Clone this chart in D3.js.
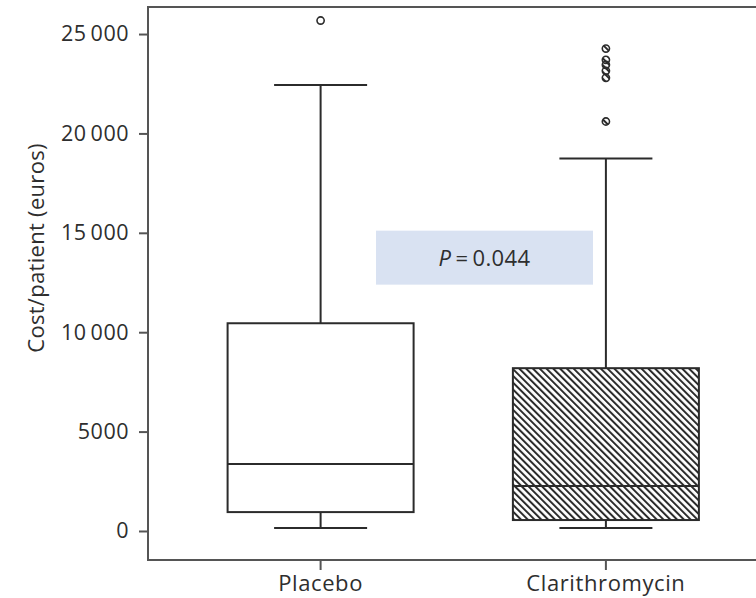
<!DOCTYPE html>
<html>
<head>
<meta charset="utf-8">
<script src="https://cdn.jsdelivr.net/npm/d3@7/dist/d3.min.js"></script>
<style>
  html, body { margin: 0; padding: 0; background: #fff; }
  svg { display: block; }
  text { font-family: "Open Sans", "Noto Sans", sans-serif; fill: #2e2e2e; }
</style>
</head>
<body>
<svg id="chart" width="756" height="598"></svg>
<script>
// Cost per patient, summarised as box plots per treatment arm
const categories   = ["Placebo", "Clarithromycin"];
const whiskerLow   = [150, 150];
const q1           = [950, 550];
const median       = [3370, 2260];
const q3           = [10450, 8190];
const whiskerHigh  = [22430, 18740];
const outliers     = [
  [25680],
  [24270, 23700, 23450, 23150, 22800, 20600]
];
const hatched      = [false, true];

const yTicks       = [0, 5000, 10000, 15000, 20000, 25000];
const yTickLabels  = ["0", "5000", "10\u2009000", "15\u2009000", "20\u2009000", "25\u2009000"];
const yTitle       = "Cost/patient (euros)";
const pLabelValue  = "0.044";
const pLabelAt     = 13750; // vertical centre of the annotation, euros

const svg = d3.select("#chart");
const ink = "#2b2b2b";

const frame = { left: 148, top: 7, bottom: 560, right: 780 };

const y = d3.scaleLinear().domain([-1460, 26360]).range([frame.bottom, frame.top]);
const x = d3.scaleBand().domain(categories)
  .range([148, 778.5]).paddingInner(0.348).paddingOuter(0.279);

// hatch fill for the treatment arm
const defs = svg.append("defs");
defs.append("pattern")
  .attr("id", "hatch")
  .attr("patternUnits", "userSpaceOnUse")
  .attr("width", 4.8).attr("height", 10)
  .attr("patternTransform", "rotate(-45)")
  .append("rect")
  .attr("x", 0).attr("y", 0).attr("width", 2).attr("height", 10)
  .attr("fill", ink);

// y axis (ticks and labels only; the frame is drawn separately)
const yAxis = d3.axisLeft(y)
  .tickValues(yTicks)
  .tickSize(9)
  .tickPadding(10)
  .tickFormat((d, i) => yTickLabels[i]);

const gy = svg.append("g")
  .attr("transform", `translate(${frame.left},0)`)
  .call(yAxis);
gy.select(".domain").remove();
gy.selectAll(".tick line").attr("stroke", "#555").attr("stroke-width", 2);
gy.selectAll(".tick text")
  .style("font-size", "21.5px").style("letter-spacing", "0.5px")
  .attr("fill", "#2e2e2e");

// x axis
const xAxis = d3.axisBottom(x).tickSize(10).tickPadding(5);
const gx = svg.append("g")
  .attr("transform", `translate(0,${frame.bottom})`)
  .call(xAxis);
gx.select(".domain").remove();
gx.selectAll(".tick line").attr("stroke", "#555").attr("stroke-width", 2);
gx.selectAll(".tick text")
  .style("font-size", "22px").style("letter-spacing", "0.6px")
  .attr("fill", "#2e2e2e");

// frame (open on the right)
svg.append("path")
  .attr("d", `M${frame.right},${frame.top}H${frame.left}V${frame.bottom}H${frame.right}`)
  .attr("fill", "none").attr("stroke", "#555").attr("stroke-width", 2);

// y title
svg.append("text")
  .attr("transform", "translate(44,248) rotate(-90)")
  .attr("text-anchor", "middle")
  .style("font-size", "22px")
  .style("letter-spacing", "0.3px")
  .text(yTitle);

// p-value annotation
const pBox = svg.append("g");
pBox.append("rect")
  .attr("x", 376).attr("width", 217)
  .attr("y", y(pLabelAt) - 27).attr("height", 54)
  .attr("fill", "#d9e2f2");
const pText = pBox.append("text")
  .attr("x", 484.5).attr("y", y(pLabelAt))
  .attr("dy", "0.36em")
  .attr("text-anchor", "middle")
  .style("font-size", "22px")
  .style("letter-spacing", "0.4px");
pText.append("tspan").style("font-style", "italic").text("P");
pText.append("tspan").text("\u2009=\u20090.044".replace("0.044", pLabelValue));

// boxes
const bw = x.bandwidth();
const capW = bw * 0.5;
const groups = svg.append("g").selectAll("g")
  .data(categories.map((c, i) => ({
    c, lo: whiskerLow[i], q1: q1[i], med: median[i], q3: q3[i], hi: whiskerHigh[i],
    out: outliers[i], hatch: hatched[i]
  })))
  .join("g");

groups.each(function (d) {
  const g = d3.select(this);
  const cx = x(d.c) + bw / 2;
  const line = (x1, y1, x2, y2) => g.append("line")
    .attr("x1", x1).attr("y1", y1).attr("x2", x2).attr("y2", y2)
    .attr("stroke", ink).attr("stroke-width", 2);

  // whiskers and caps
  line(cx, y(d.q3), cx, y(d.hi));
  line(cx, y(d.q1), cx, y(d.lo));
  line(cx - capW / 2, y(d.hi), cx + capW / 2, y(d.hi));
  line(cx - capW / 2, y(d.lo), cx + capW / 2, y(d.lo));

  // interquartile box
  g.append("rect")
    .attr("x", x(d.c)).attr("width", bw)
    .attr("y", y(d.q3)).attr("height", y(d.q1) - y(d.q3))
    .attr("fill", d.hatch ? "url(#hatch)" : "#fff")
    .attr("stroke", ink).attr("stroke-width", 2);

  // median
  line(x(d.c), y(d.med), x(d.c) + bw, y(d.med));

  // outliers
  g.selectAll("circle").data(d.out).join("circle")
    .attr("cx", cx).attr("cy", v => y(v)).attr("r", 3.6)
    .attr("fill", d.hatch ? "url(#hatch)" : "#fff")
    .attr("stroke", ink).attr("stroke-width", 1.6);
});
</script>
</body>
</html>
